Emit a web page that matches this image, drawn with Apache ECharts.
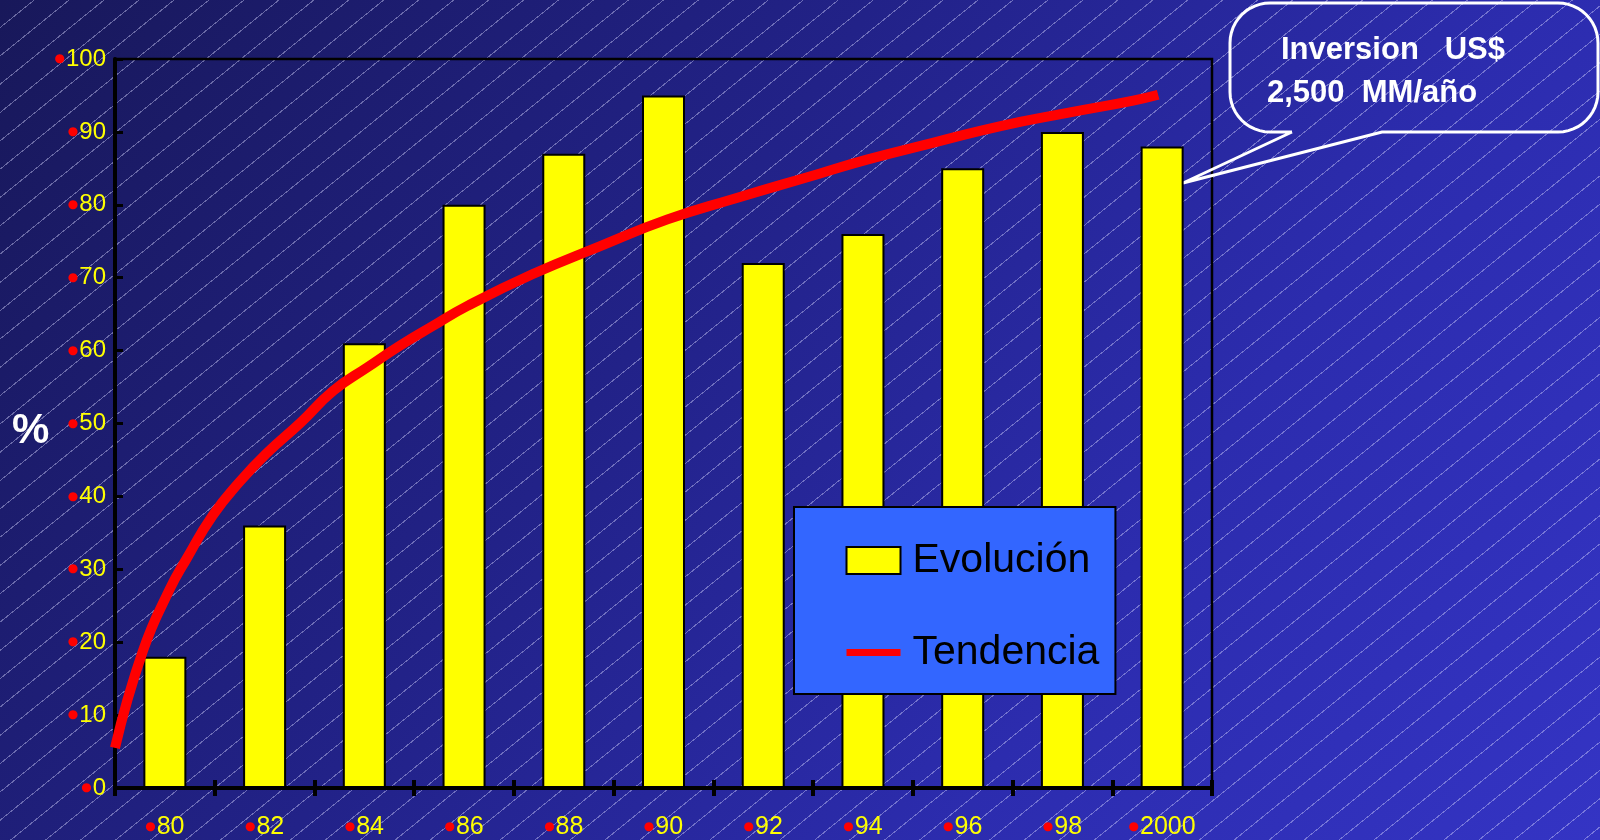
<!DOCTYPE html>
<html><head><meta charset="utf-8">
<script src="https://cdn.jsdelivr.net/npm/echarts@6/dist/echarts.min.js"></script>
<style>
html,body{margin:0;padding:0;width:1600px;height:840px;overflow:hidden;}
body{background:
 repeating-linear-gradient(141deg, rgba(255,255,255,0) 0px, rgba(255,255,255,0) 21px, rgba(215,215,255,0.42) 21px, rgba(215,215,255,0.42) 22px),
 linear-gradient(125deg, #18185a 0%, #222288 40%, #2c2cae 70%, #3434c4 100%);}
#chart{width:1600px;height:840px;}
</style></head>
<body><div id="chart"></div>
<script>
const categories = ['80','82','84','86','88','90','92','94','96','98','2000'];
const evolucion = [18, 36, 61, 80, 87, 95, 72, 76, 85, 90, 88];
const trendYears = [1979.0, 1979.56, 1980.1, 1980.44, 1980.96, 1981.5, 1982.04, 1982.72, 1983.38, 1984.06, 1984.72, 1985.38, 1986.06, 1987.38, 1988.72, 1990.08, 1991.4, 1993.14, 1994.08, 1995.4, 1996.76, 1998.1, 1999.42, 1999.92];
const trendValues = [5.5, 18.8, 27.3, 31.5, 37.4, 42.0, 45.9, 50.1, 54.5, 57.7, 60.7, 63.4, 66.1, 70.5, 74.3, 78.0, 80.8, 84.3, 86.2, 88.5, 90.8, 92.6, 94.3, 95.1];
const yMin = 0, yMax = 100, yStep = 10;
const yAxisName = '%';
const calloutLines = ['Inversion   US$', '2,500  MM/año'];

const FONT = '"Liberation Sans", Arial, sans-serif';

// callout outline (annotation shape): rounded box with a tail
function calloutPoints(x0, y0, x1, y1, r, tailA, tailTip, tailB) {
  const pts = [];
  const arc = (cx, cy, a0, a1) => {
    for (let k = 0; k <= 12; k++) {
      const a = (a0 + (a1 - a0) * k / 12) * Math.PI / 180;
      pts.push([cx + r * Math.cos(a), cy + r * Math.sin(a)]);
    }
  };
  pts.push([tailA, y1], tailTip, [tailB, y1]);
  arc(x1 - r, y1 - r, 90, 0);
  arc(x1 - r, y0 + r, 0, -90);
  arc(x0 + r, y0 + r, -90, -180);
  arc(x0 + r, y1 - r, 180, 90);
  pts.push([tailA, y1]);
  return pts;
}

const chart = echarts.init(document.getElementById('chart'), null, {renderer: 'canvas'});
const dotLabel = v => '{d|●}{v|' + v + '}';
const tickStyle = {color: '#000', width: 4};

chart.setOption({
  animation: false,
  backgroundColor: 'transparent',
  grid: {left: 115, top: 59, right: 388, bottom: 52, show: true, borderColor: '#000', borderWidth: 2.5, backgroundColor: 'transparent'},
  xAxis: [
    {type: 'category', data: categories, boundaryGap: true,
     axisLine: {lineStyle: {color: '#000', width: 4}},
     axisTick: {show: true, length: 8, lineStyle: tickStyle},
     axisLabel: {margin: 26, formatter: dotLabel,
       rich: {d: {color: '#ff0000', fontSize: 12, fontFamily: 'DejaVu Sans', lineHeight: 26, padding: [0, 1, 0, 0]},
              v: {color: '#ffff00', fontSize: 25, fontFamily: FONT, lineHeight: 26}}}},
    {type: 'category', data: categories, boundaryGap: true, position: 'bottom',
     axisLine: {show: false}, axisTick: {show: true, inside: true, length: 8, lineStyle: tickStyle},
     axisLabel: {show: false}},
    {type: 'value', min: 1979, max: 2001, show: false}
  ],
  yAxis: {type: 'value', min: yMin, max: yMax, interval: yStep,
    axisLine: {show: true, lineStyle: {color: '#000', width: 4}},
    axisTick: {show: true, inside: true, length: 8, lineStyle: {color: '#000', width: 3}},
    splitLine: {show: false},
    axisLabel: {margin: 9, formatter: dotLabel,
      rich: {d: {color: '#ff0000', fontSize: 12, fontFamily: 'DejaVu Sans', padding: [0, 1, 0, 0]},
             v: {color: '#ffff00', fontSize: 24, fontFamily: FONT}}}},
  legend: {
    left: 794, top: 507, orient: 'vertical',
    backgroundColor: '#3366ff', borderColor: '#000', borderWidth: 2, borderRadius: 0,
    padding: [33, 16, 21, 49], itemGap: 51, itemWidth: 54, itemHeight: 27,
    textStyle: {color: '#000', fontSize: 41, fontFamily: FONT, lineHeight: 40, padding: [0, 0, 0, 7]},
    data: [
      {name: 'Evolución', icon: 'rect'},
      {name: 'Tendencia', lineStyle: {width: 7, color: '#ff0000'},
       itemStyle: {color: 'rgba(0,0,0,0)', borderColor: 'rgba(0,0,0,0)', borderWidth: 0, opacity: 0}}
    ]
  },
  series: [
    {name: 'Evolución', type: 'bar', xAxisIndex: 0, data: evolucion, barWidth: 43,
     itemStyle: {color: '#ffff00', borderColor: '#000', borderWidth: 2}},
    {name: 'Tendencia', type: 'line', xAxisIndex: 2, z: 3,
     data: trendYears.map((y, i) => [y, trendValues[i]]),
     smooth: 0.5, symbol: 'none', showSymbol: false,
     lineStyle: {color: '#ff0000', width: 10}}
  ],
  graphic: [
    {type: 'text', x: 12, y: 410, style: {text: yAxisName, fill: '#ffffff', font: 'bold 42px ' + FONT}},
    {type: 'polyline', shape: {points: calloutPoints(1230, 3, 1598, 132, 40, 1292, [1183, 183], 1382)},
     style: {fill: null, stroke: '#ffffff', lineWidth: 3}},
    {type: 'text', x: 1281, y: 50, style: {text: calloutLines[0], fill: '#ffffff', font: 'bold 31px ' + FONT, verticalAlign: 'middle'}},
    {type: 'text', x: 1267, y: 93, style: {text: calloutLines[1], fill: '#ffffff', font: 'bold 31px ' + FONT, verticalAlign: 'middle'}}
  ]
});
</script>
</body></html>
